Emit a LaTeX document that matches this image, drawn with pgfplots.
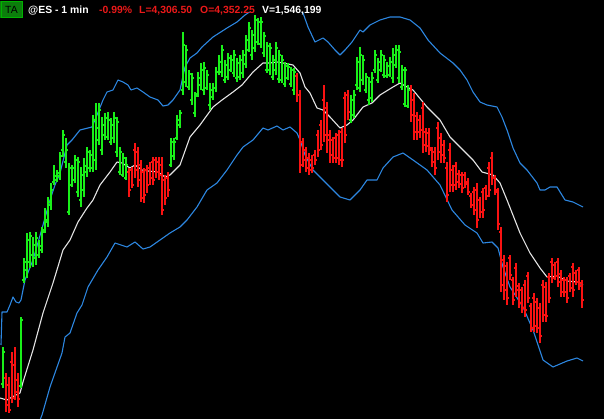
\documentclass[border=0pt]{standalone}
\usepackage{fontspec}
\setmainfont{Liberation Sans}
\usepackage{pgfplots}
\usepackage{pgfplotstable}
\pgfplotsset{compat=1.18}
\definecolor{barup}{RGB}{25,240,25}
\definecolor{bardn}{RGB}{250,18,18}
\definecolor{bandc}{RGB}{45,135,225}
\definecolor{midc}{RGB}{228,228,228}
\definecolor{tagg}{RGB}{12,125,12}
\definecolor{hdred}{RGB}{235,25,25}
\pgfplotsset{
  hlbar/.style={only marks, mark=*, mark size=0.1pt, mark options={draw opacity=0, fill opacity=0},
    error bars/.cd, y dir=plus, y explicit, error mark=none,
    error bar style={line width=1.1bp, draw=#1}},
  otick/.style={only marks, mark=*, mark size=0.1pt, mark options={draw opacity=0, fill opacity=0},
    error bars/.cd, x dir=minus, x fixed=1.6, error mark=none,
    error bar style={line width=1.1bp, draw=#1}},
  ctick/.style={only marks, mark=*, mark size=0.1pt, mark options={draw opacity=0, fill opacity=0},
    error bars/.cd, x dir=plus, x fixed=1.6, error mark=none,
    error bar style={line width=1.1bp, draw=#1}},
}

\pgfplotstableread{
x h l o c
3 347 388 384 352
21 317 388 386 320
24 258 283 280 262
27 233 278 270 240
30 232 268 262 236
33 237 267 255 245
36 232 265 258 238
39 240 258 255 246
42 227 253 250 232
45 208 233 230 220
48 197 227 222 202
51 183 210 205 190
54 165 185 182 176
57 170 182 180 173
60 152 180 176 156
63 130 157 150 135
66 138 168 162 150
69 163 215 212 168
72 165 187 185 168
75 155 183 180 160
78 157 197 192 162
81 167 207 200 175
84 158 197 190 166
87 147 177 172 152
90 150 172 168 155
93 115 172 168 120
96 103 170 160 128
99 103 145 140 110
102 117 155 150 125
105 113 140 135 118
108 112 140 137 120
111 118 145 142 125
114 112 143 138 118
117 117 157 152 122
120 147 175 172 152
123 153 177 175 158
126 157 180 178 165
171 138 167 165 142
174 138 160 156 142
177 115 140 138 120
180 110 128 125 113
183 32 95 90 45
186 45 87 82 50
189 70 90 87 74
192 73 105 100 78
195 92 117 113 96
198 72 97 94 78
201 63 90 85 70
204 62 95 90 68
207 70 90 88 75
210 83 110 105 90
213 83 100 97 88
216 67 92 88 72
219 55 75 72 62
222 45 77 72 50
225 60 83 80 65
228 53 80 77 58
231 55 72 70 60
234 50 77 73 55
237 58 82 78 63
240 55 80 77 60
243 50 78 73 55
246 35 68 64 40
249 22 52 50 28
252 30 60 55 35
255 15 52 48 20
258 18 45 42 22
261 17 48 44 22
264 32 57 53 36
267 42 73 70 46
270 43 75 70 48
273 55 80 77 60
276 42 75 70 48
279 50 83 79 55
282 55 83 80 60
285 62 87 84 66
288 63 80 78 67
291 67 87 84 70
294 68 95 90 72
351 95 123 120 100
354 90 118 115 95
357 57 90 85 62
360 47 92 88 55
363 55 85 80 60
366 73 93 90 77
369 77 105 100 82
372 72 102 98 78
375 50 73 70 55
378 58 83 80 62
381 50 72 70 55
384 55 78 75 60
387 62 78 76 66
390 57 77 75 62
393 48 83 78 55
396 45 68 65 50
399 45 83 78 52
402 65 90 87 70
405 67 107 104 70
408 85 108 106 90
}\upbars

\pgfplotstableread{
x h l o c
6 373 412 378 405
9 377 413 385 410
12 352 403 362 398
15 347 400 365 392
18 373 407 380 399
129 168 197 172 190
132 167 188 170 185
135 143 178 150 170
138 147 187 152 180
141 160 202 165 198
144 168 203 172 195
147 165 193 170 185
150 162 185 168 178
153 157 185 162 180
156 157 178 160 172
159 157 180 162 175
162 157 215 165 210
165 175 205 180 198
168 172 197 178 190
297 73 102 76 95
300 90 173 95 165
303 138 167 142 160
306 147 172 150 168
309 153 175 158 170
312 155 173 160 168
315 150 165 155 160
318 130 157 135 150
321 120 150 125 145
324 85 142 100 135
327 102 153 108 140
330 130 163 135 155
333 137 163 140 158
336 133 163 138 158
339 130 165 135 160
342 128 167 132 160
345 92 143 98 135
348 90 120 95 112
411 85 122 90 115
414 93 140 100 132
417 112 140 116 132
420 115 138 120 130
423 102 153 108 145
426 128 152 132 146
429 128 155 133 148
432 147 167 150 162
435 147 175 152 168
438 122 160 128 152
441 133 163 138 155
444 140 163 145 158
447 162 202 168 195
450 143 192 150 185
453 165 192 170 185
456 162 190 166 182
459 170 188 174 184
462 172 193 175 188
465 172 188 175 184
468 178 195 182 192
471 193 208 196 205
474 187 215 192 210
477 183 228 190 220
480 197 218 200 212
483 188 218 192 210
486 185 200 188 196
489 162 197 168 190
492 152 185 158 178
495 175 195 178 190
498 188 230 192 224
501 227 292 232 285
504 255 300 260 290
507 262 305 266 298
510 255 280 258 275
513 277 305 280 300
516 263 297 268 290
519 283 308 286 303
522 287 313 290 308
525 280 317 285 310
528 272 303 276 298
531 303 332 306 328
534 293 332 298 326
537 298 333 302 328
540 303 343 308 336
543 280 322 285 315
546 282 322 287 316
549 273 303 277 298
552 258 283 262 278
555 262 280 265 276
558 258 287 262 282
561 270 297 274 292
564 277 297 280 292
567 277 303 280 298
570 273 292 276 288
573 263 297 267 290
576 270 285 273 282
579 267 290 270 286
582 280 308 283 300
}\dnbars

\begin{document}
\begin{tikzpicture}
\fill[black] (0,0) rectangle (604bp,419bp);
\begin{axis}[at={(0,0)}, anchor=south west, scale only axis,
  width=604bp, height=419bp, xmin=0, xmax=604, ymin=0, ymax=419,
  y dir=reverse, hide axis]
% upper band
\addplot[bandc, line width=1.1bp, line join=round] coordinates {
(1,345)(2,312)(7,312)(10,305)(13,297)(16,302)(19,303)(21,300)(25,280)(33,260)
(43,225)(50,200)(55,185)(60,173)(67,145)(72,140)(80,130)(88,128)(92,127)(97,115)
(103,100)(107,92)(113,90)(118,80)(123,82)(128,85)(131,90)(137,88)(143,92)(150,97)
(158,100)(163,106)(168,105)(173,100)(180,90)(185,67)(190,58)(197,53)(202,47)(213,37)
(227,28)(237,22)(245,15)(248,13)(255,8)(265,6)(280,5)(295,6)(303,13)(308,27)
(315,42)(323,38)(328,42)(335,50)(340,55)(345,50)(352,42)(360,30)(363,32)(370,25)
(380,20)(390,17)(400,17)(410,20)(420,28)(428,40)(440,53)(453,63)(460,70)(467,80)
(473,92)(480,102)(487,105)(497,107)(502,117)(507,130)(513,148)(520,163)(527,170)
(537,183)(540,190)(545,190)(550,187)(557,187)(565,200)(573,202)(583,207)};
% lower band
\addplot[bandc, line width=1.1bp, line join=round] coordinates {
(38,425)(42,415)(50,387)(56,370)(62,353)(65,337)(70,333)(77,313)(82,305)(88,287)
(98,270)(107,257)(115,243)(121,245)(127,247)(135,242)(143,249)(150,247)(160,240)
(170,233)(180,227)(187,220)(197,207)(207,190)(217,183)(227,170)(237,155)(243,147)
(253,140)(263,128)(268,130)(277,126)(283,130)(290,127)(297,133)(300,140)(305,155)
(313,170)(323,180)(330,187)(340,197)(350,200)(360,190)(367,180)(377,180)(383,168)
(393,157)(403,153)(413,160)(427,170)(440,185)(452,210)(465,225)(477,233)(483,243)
(492,242)(498,248)(503,267)(510,287)(523,307)(533,330)(543,360)(553,367)(567,361)
(577,358)(583,361)};
% middle band
\addplot[midc, line width=1.1bp, line join=round] coordinates {
(0,398)(7,400)(12,397)(20,393)(23,382)(33,350)(43,313)(53,283)(63,250)(70,240)
(78,222)(87,208)(93,200)(100,185)(110,172)(117,162)(122,163)(130,168)(135,165)
(142,170)(148,171)(158,172)(165,177)(170,175)(180,165)(190,137)(200,125)(213,107)
(222,100)(233,92)(242,85)(253,72)(263,63)(270,63)(277,62)(283,63)(293,65)(300,73)
(305,87)(310,93)(317,108)(323,110)(330,117)(340,128)(347,125)(353,120)(363,107)
(372,103)(380,95)(393,87)(400,83)(407,87)(413,90)(427,107)(440,120)(450,137)
(460,147)(473,160)(482,172)(493,175)(500,183)(507,200)(520,233)(530,253)(540,268)
(547,277)(557,276)(567,281)(577,282)(583,285)};
\fill[black] (axis cs:0,0) rectangle (axis cs:326,12.5);
% down bars
\addplot[hlbar=bardn] table[x=x, y=h, y error expr=\thisrow{l}-\thisrow{h}] {\dnbars};
\addplot[otick=bardn] table[x=x, y=o] {\dnbars};
\addplot[ctick=bardn] table[x=x, y=c] {\dnbars};
% up bars
\addplot[hlbar=barup] table[x=x, y=h, y error expr=\thisrow{l}-\thisrow{h}] {\upbars};
\addplot[otick=barup] table[x=x, y=o] {\upbars};
\addplot[ctick=barup] table[x=x, y=c] {\upbars};
\end{axis}
% header
\fill[tagg] (0.5bp,401bp) rectangle (22.5bp,418bp);
\draw[green!70!black, line width=0.6bp] (0.8bp,401.3bp) rectangle (22.2bp,417.7bp);
\begin{scope}[every node/.style={anchor=base west, inner sep=0pt, font=\fontsize{10.4bp}{12bp}\selectfont\bfseries}]
\node[font=\fontsize{10.4bp}{12bp}\selectfont, text=black, anchor=base] at (11.5bp,405.5bp) {TA};
\node[text=white] at (28bp,405.5bp) {@ES - 1 min};
\node[text=hdred] at (99bp,405.5bp) {-0.99\%};
\node[text=hdred] at (139bp,405.5bp) {L=4,306.50};
\node[text=hdred] at (200bp,405.5bp) {O=4,352.25};
\node[text=white] at (262bp,405.5bp) {V=1,546,199};
\end{scope}
\end{tikzpicture}
\end{document}
